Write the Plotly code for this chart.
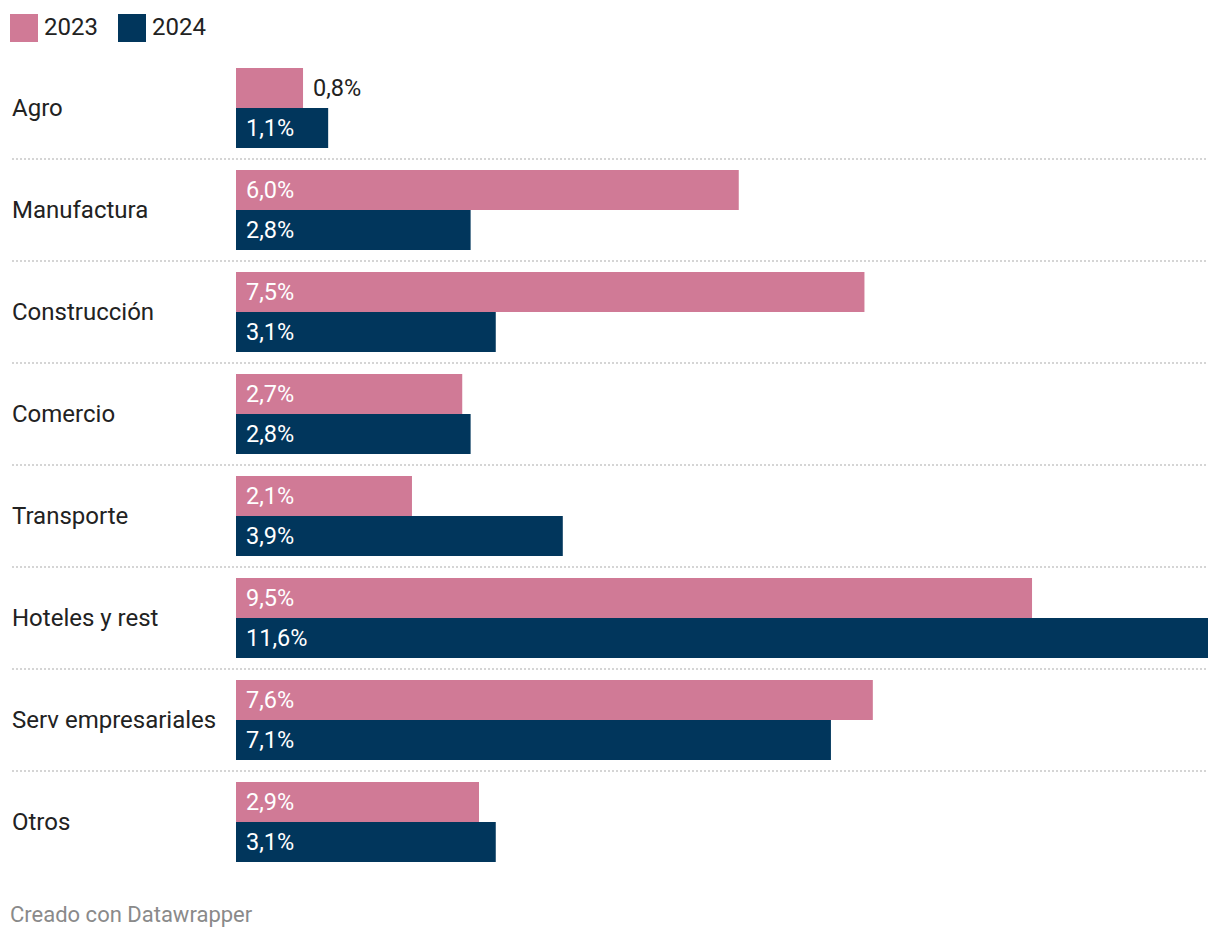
import plotly.graph_objects as go

categories = ["Agro", "Manufactura", "Construcción", "Comercio", "Transporte",
              "Hoteles y rest", "Serv empresariales", "Otros"]
series_names = ["2023", "2024"]
values_2023 = [0.8, 6.0, 7.5, 2.7, 2.1, 9.5, 7.6, 2.9]
values_2024 = [1.1, 2.8, 3.1, 2.8, 3.9, 11.6, 7.1, 3.1]
colors = ["#d07a96", "#01365c"]

W, H = 1220, 940
L, R, T, B = 236, 12, 57, 67
PW, PH = W - L - R, H - T - B


def px_x(px):
    return (px - L) / PW


def px_y(py):
    return (H - B - py) / PH


FONT = "Roboto, Arial, sans-serif"

fig = go.Figure()
for name, vals, col in zip(series_names, [values_2023, values_2024], colors):
    fig.add_trace(go.Bar(
        y=categories, x=vals, name=name, orientation="h",
        marker=dict(color=col, line=dict(width=0)),
        showlegend=False, hoverinfo="skip",
    ))


def fmt(v):
    return f"{v:.1f}".replace(".", ",") + "%"


annotations = []
shapes = []
for i, cat in enumerate(categories):
    annotations.append(dict(
        x=px_x(10), xref="paper", y=cat, yref="y", text=cat, showarrow=False,
        xanchor="left", yanchor="middle", font=dict(family=FONT, size=24, color="#222222")))
    for vals, shift in ((values_2023, 20), (values_2024, -20)):
        v = vals[i]
        inside = v >= 1.0
        annotations.append(dict(
            x=0 if inside else v, xref="x", y=cat, yref="y", yshift=shift, xshift=8,
            text=fmt(v), showarrow=False, xanchor="left", yanchor="middle",
            font=dict(family=FONT, size=23.5, color="#ffffff" if inside else "#222222")))
    if i < len(categories) - 1:
        shapes.append(dict(
            type="line", xref="paper", yref="y", x0=px_x(12), x1=1,
            y0=i + 0.5, y1=i + 0.5, line=dict(color="#c8c8c8", width=1.5, dash="2px,2px")))

# legend
leg_x = [10, 118]
for name, col, lx in zip(series_names, colors, leg_x):
    shapes.append(dict(type="rect", xref="paper", yref="paper",
                       x0=px_x(lx), x1=px_x(lx + 28), y0=px_y(42), y1=px_y(14),
                       fillcolor=col, line=dict(width=0)))
    annotations.append(dict(x=px_x(lx + 32), y=px_y(27), xref="paper", yref="paper",
                            text=name, showarrow=False, xanchor="left", yanchor="middle",
                            font=dict(family=FONT, size=24, color="#222222")))

annotations.append(dict(x=px_x(8), y=px_y(914), xref="paper", yref="paper",
                        text="Creado con Datawrapper", showarrow=False,
                        xanchor="left", yanchor="middle",
                        font=dict(family=FONT, size=22, color="#8a8a8a")))

fig.update_layout(
    width=W, height=H, autosize=False,
    margin=dict(l=L, r=R, t=T, b=B, pad=0),
    paper_bgcolor="white", plot_bgcolor="white",
    barmode="group", bargap=22 / 102, bargroupgap=0,
    xaxis=dict(range=[0, 11.6], visible=False, fixedrange=True),
    yaxis=dict(autorange="reversed", showticklabels=False, showgrid=False,
               zeroline=False, showline=False, ticks="", fixedrange=True),
    annotations=annotations, shapes=shapes,
    font=dict(family=FONT),
)

fig.write_html("out.html", config={"displayModeBar": False})
